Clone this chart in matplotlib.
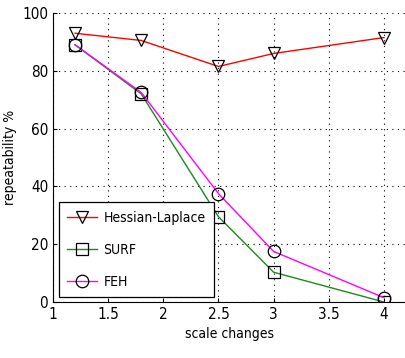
import numpy as np
import matplotlib
matplotlib.use('Agg')
import matplotlib.pyplot as plt

plt.rcParams['font.family'] = ['DejaVu Sans']
plt.rcParams['font.stretch'] = 'condensed'

scale = [1.2, 1.8, 2.5, 3, 4]
hessian_laplace = [93, 90.5, 81.5, 86, 91.5]
surf = [89, 72, 29.5, 10.3, 0]
feh = [89, 72.5, 37.5, 17.5, 1.5]

fig = plt.figure(figsize=(4.06, 3.58), dpi=100)
ax = fig.add_axes([53/406, 56/358, 353/406, 289/358])

ax.plot(scale, hessian_laplace, color='red', linewidth=1, marker='v', markersize=9,
        markerfacecolor='none', markeredgecolor='black', markeredgewidth=0.9, label='Hessian-Laplace')
ax.plot(scale, surf, color='#1a8c1a', linewidth=1, marker='s', markersize=9,
        markerfacecolor='none', markeredgecolor='black', markeredgewidth=0.9, label='SURF')
ax.plot(scale, feh, color='magenta', linewidth=1, marker='o', markersize=9,
        markerfacecolor='none', markeredgecolor='black', markeredgewidth=0.9, label='FEH')

ax.set_xlim(1, 4.2)
ax.set_ylim(0, 100)
ax.set_xticks([1, 1.5, 2, 2.5, 3, 3.5, 4])
ax.set_xticklabels(['1', '1.5', '2', '2.5', '3', '3.5', '4'])
ax.set_yticks([0, 20, 40, 60, 80, 100])
ax.grid(True, linestyle=(0, (1, 4)), color='black', linewidth=0.8)
ax.tick_params(direction='in', labelsize=11, length=3)
for s in ['top', 'right']:
    ax.spines[s].set_visible(False)
ax.set_xlabel('scale changes', fontsize=10)
ax.set_ylabel('repeatability %', fontsize=10)

leg = ax.legend(loc='lower left', bbox_to_anchor=(6/353, 5/289), borderaxespad=0,
                fontsize=10, fancybox=False, framealpha=1, edgecolor='black',
                handlelength=2.1, handletextpad=0.5, borderpad=0.6, labelspacing=1.3)
leg.get_frame().set_linewidth(0.9)

fig.savefig('out.png', dpi=100)
